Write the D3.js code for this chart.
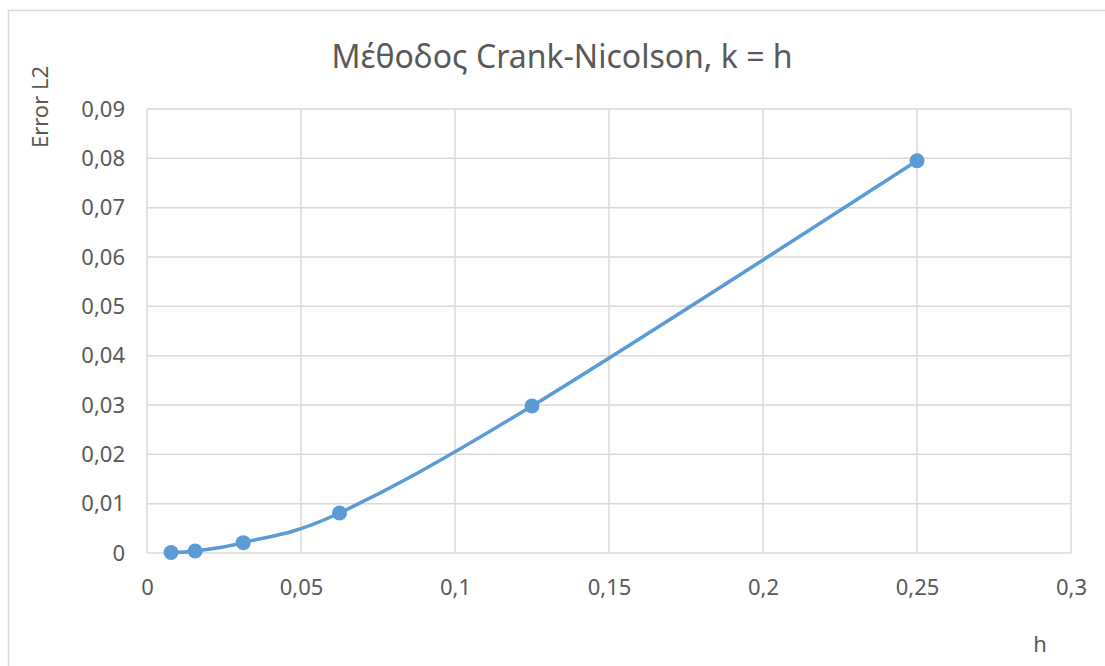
<!DOCTYPE html>
<html>
<head>
<meta charset="utf-8">
<script src="https://cdn.jsdelivr.net/npm/d3@7.9.0/dist/d3.min.js"></script>
<style>
  body { margin: 0; background: #fff; }
  svg text { font-family: 'Noto Sans', 'Open Sans', sans-serif; fill: #595959; }
</style>
</head>
<body>
<svg id="chart"></svg>
<script>
// data (h = 1/128 ... 1/4)
const hValues = [0.0078125, 0.015625, 0.03125, 0.0625, 0.125, 0.25];
const errorL2 = [0.0001, 0.0004, 0.0021, 0.0081, 0.0298, 0.0795];
const xTicks = [0, 0.05, 0.1, 0.15, 0.2, 0.25, 0.3];
const yTicks = [0, 0.01, 0.02, 0.03, 0.04, 0.05, 0.06, 0.07, 0.08, 0.09];
const chartTitle = 'Μέθοδος Crank-Nicolson, k = h';
const xTitle = 'h';
const yTitle = 'Error L2';

const width = 1105;
const height = 666;
const margin = { top: 109, right: 34, bottom: 113, left: 147 };

const svg = d3.select('#chart').attr('width', width).attr('height', height);

// chart frame (cut off at right/bottom like the screenshot)
svg.append('rect')
  .attr('x', 8.5).attr('y', 10.5)
  .attr('width', width + 20).attr('height', height + 20)
  .attr('fill', 'none')
  .attr('stroke', '#d9d9d9')
  .attr('stroke-width', 1.5);

const x = d3.scaleLinear().domain([0, 0.3]).range([margin.left, width - margin.right]);
const y = d3.scaleLinear().domain([0, 0.09]).range([height - margin.bottom, margin.top]);

const fmt = (d) => String(d).replace('.', ',');

// gridlines
svg.append('g')
  .selectAll('line')
  .data(xTicks)
  .join('line')
  .attr('x1', (d) => x(d)).attr('x2', (d) => x(d))
  .attr('y1', y(0)).attr('y2', y(0.09))
  .attr('stroke', '#d9d9d9').attr('stroke-width', 1.5);

svg.append('g')
  .selectAll('line')
  .data(yTicks)
  .join('line')
  .attr('x1', x(0)).attr('x2', x(0.3))
  .attr('y1', (d) => y(d)).attr('y2', (d) => y(d))
  .attr('stroke', '#d9d9d9').attr('stroke-width', 1.5);

// axes (labels only, gridlines drawn above)
const xAxis = svg.append('g')
  .attr('transform', `translate(0, ${y(0)})`)
  .call(d3.axisBottom(x).tickValues(xTicks).tickFormat(fmt).tickSize(0).tickPadding(26));
const yAxis = svg.append('g')
  .attr('transform', `translate(${x(0)}, 0)`)
  .call(d3.axisLeft(y).tickValues(yTicks).tickFormat(fmt).tickSize(0).tickPadding(22));

[xAxis, yAxis].forEach((a) => {
  a.select('.domain').remove();
  a.selectAll('text')
    .attr('font-size', 22)
    .attr('fill', '#595959')
    .attr('font-family', "'Noto Sans', sans-serif");
});

// series line (smoothed like the spreadsheet)
const pts = hValues.map((h, i) => [h, errorL2[i]]);
const line = d3.line()
  .x((d) => x(d[0]))
  .y((d) => y(d[1]))
  .curve(d3.curveCardinal.tension(0));

svg.append('path')
  .datum(pts)
  .attr('d', line)
  .attr('fill', 'none')
  .attr('stroke', '#5b9bd5')
  .attr('stroke-width', 3.5)
  .attr('stroke-linecap', 'round');

svg.append('g')
  .selectAll('circle')
  .data(pts)
  .join('circle')
  .attr('cx', (d) => x(d[0]))
  .attr('cy', (d) => y(d[1]))
  .attr('r', 7.5)
  .attr('fill', '#5b9bd5');

// titles
svg.append('text')
  .attr('x', 562).attr('y', 68)
  .attr('text-anchor', 'middle')
  .attr('font-size', 32)
  .text(chartTitle);

svg.append('text')
  .attr('x', 1040).attr('y', 652)
  .attr('text-anchor', 'middle')
  .attr('font-size', 22)
  .text(xTitle);

svg.append('text')
  .attr('transform', 'translate(48, 107) rotate(-90)')
  .attr('text-anchor', 'middle')
  .attr('font-size', 22)
  .text(yTitle);
</script>
</body>
</html>
